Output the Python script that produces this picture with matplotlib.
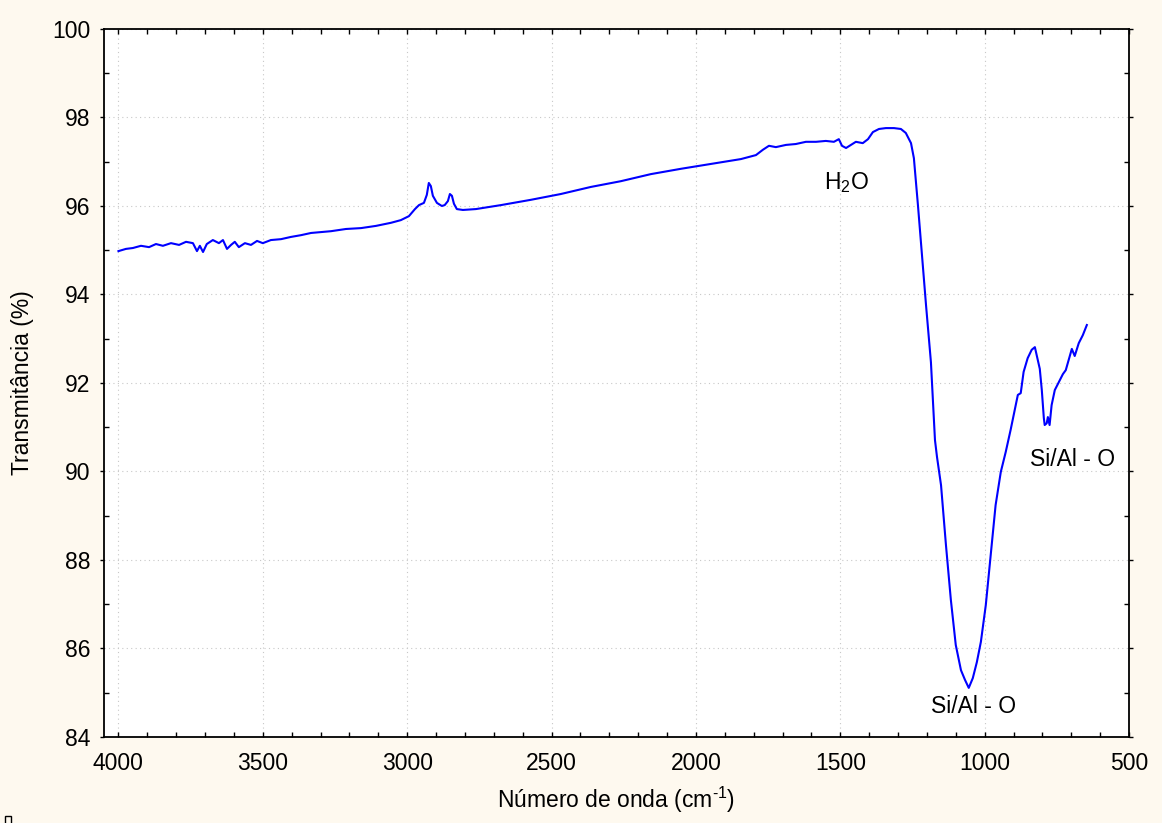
import matplotlib.pyplot as plt
from matplotlib.ticker import MultipleLocator
from matplotlib.patches import Rectangle

plt.rcParams['font.family'] = ['Liberation Sans', 'DejaVu Sans']
plt.rcParams['mathtext.fontset'] = 'custom'
plt.rcParams['mathtext.rm'] = 'Liberation Sans'
plt.rcParams['mathtext.it'] = 'Liberation Sans'

# FTIR spectrum
wavenumber = [4000, 3974, 3950, 3922, 3894, 3870, 3846, 3818, 3790, 3766,
              3742, 3728, 3718, 3707, 3694, 3673, 3652, 3638, 3624, 3610,
              3597, 3583, 3562, 3541, 3520, 3500, 3472, 3437, 3403, 3368,
              3333, 3299, 3264, 3212, 3160, 3108, 3056, 3022, 2994, 2973,
              2959, 2942, 2932, 2925, 2918, 2911, 2897, 2880, 2870, 2859,
              2852, 2845, 2838, 2828, 2807, 2762, 2675, 2571, 2468, 2364,
              2260, 2156, 2052, 1948, 1844, 1792, 1768, 1747, 1723, 1688,
              1654, 1619, 1584, 1550, 1522, 1505, 1494, 1480, 1463, 1446,
              1422, 1404, 1387, 1366, 1342, 1314, 1290, 1273, 1255, 1245,
              1231, 1217, 1203, 1186, 1172, 1165, 1151, 1134, 1117, 1100,
              1082, 1068, 1055, 1041, 1027, 1013, 996, 979, 962, 944,
              927, 910, 892, 885, 875, 865, 851, 837, 826, 819,
              809, 802, 795, 792, 785, 781, 775, 768, 757, 743,
              729, 719, 709, 698, 688, 674, 660, 646]
transmittance = [94.98, 95.03, 95.05, 95.10, 95.07, 95.14, 95.10, 95.16, 95.12, 95.19,
                 95.16, 94.98, 95.10, 94.96, 95.14, 95.23, 95.16, 95.23, 95.03, 95.12,
                 95.19, 95.07, 95.16, 95.12, 95.21, 95.16, 95.23, 95.25, 95.30, 95.34,
                 95.39, 95.41, 95.43, 95.48, 95.50, 95.55, 95.62, 95.68, 95.77, 95.93,
                 96.02, 96.07, 96.25, 96.52, 96.45, 96.23, 96.07, 96.00, 96.02, 96.11,
                 96.27, 96.23, 96.05, 95.93, 95.91, 95.93, 96.02, 96.14, 96.27, 96.43,
                 96.56, 96.72, 96.84, 96.95, 97.06, 97.15, 97.27, 97.36, 97.33, 97.38,
                 97.40, 97.45, 97.45, 97.47, 97.45, 97.51, 97.36, 97.31, 97.38, 97.45,
                 97.42, 97.51, 97.67, 97.74, 97.76, 97.76, 97.74, 97.65, 97.42, 97.08,
                 96.02, 94.89, 93.76, 92.47, 90.71, 90.33, 89.69, 88.34, 87.10, 86.08,
                 85.51, 85.29, 85.11, 85.33, 85.69, 86.15, 86.98, 88.11, 89.24, 89.99,
                 90.44, 90.94, 91.50, 91.73, 91.77, 92.25, 92.56, 92.75, 92.81, 92.61,
                 92.32, 91.84, 91.21, 91.05, 91.09, 91.23, 91.05, 91.50, 91.84, 92.02,
                 92.20, 92.29, 92.52, 92.77, 92.61, 92.90, 93.08, 93.31]

fs = 16.5

fig = plt.figure(figsize=(11.62, 8.23), dpi=100, facecolor='#fef9ef')
ax = fig.add_axes([0.0895, 0.1045, 0.8821, 0.8603])
ax.set_facecolor('white')

ax.plot(wavenumber, transmittance, color='#0000ff', linewidth=1.5)

ax.set_xlim(4050, 500)
ax.set_ylim(84, 100)
ax.xaxis.set_major_locator(MultipleLocator(500))
ax.xaxis.set_minor_locator(MultipleLocator(100))
ax.yaxis.set_major_locator(MultipleLocator(2))
ax.yaxis.set_minor_locator(MultipleLocator(1))

ax.grid(True, which='major', linestyle=(0, (1, 3)), color='#c8c8c8', linewidth=0.8)
ax.tick_params(which='both', direction='in', top=True, right=True,
               length=3.5, width=1, labelsize=fs)
ax.tick_params(axis='y', which='major', direction='out', left=True, length=3, pad=7)
ax.tick_params(axis='x', which='major', pad=11)
for s in ax.spines.values():
    s.set_linewidth(1.3)

ax.set_xlabel('Número de onda (cm$^{\\text{-1}}$)', fontsize=fs, labelpad=7)
ax.set_ylabel('Transmitância (%)', fontsize=fs, labelpad=13)

ax.text(1480, 96.52, 'H$_2$O', fontsize=fs, ha='center', va='center')
ax.text(1040, 84.70, 'Si/Al - O', fontsize=fs, ha='center', va='center')
ax.text(697, 90.28, 'Si/Al - O', fontsize=fs, ha='center', va='center')

fig.patches.append(Rectangle((5 / 1162, -0.002), 6 / 1162, 9 / 823, fill=False,
                             edgecolor='black', linewidth=1, transform=fig.transFigure))

fig.savefig('out.png', dpi=100, facecolor=fig.get_facecolor())
